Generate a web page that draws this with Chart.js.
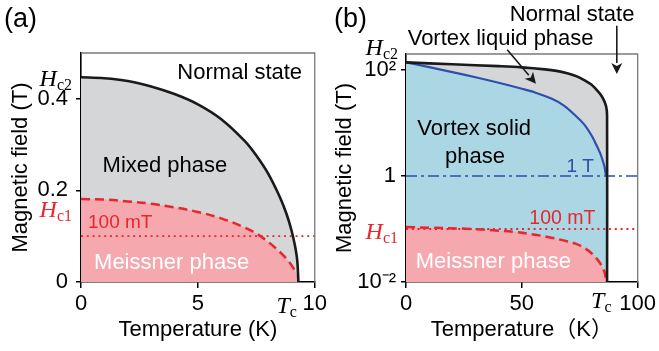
<!DOCTYPE html>
<html>
<head>
<meta charset="utf-8">
<script src="https://cdn.jsdelivr.net/npm/chart.js@4.4.1/dist/chart.umd.min.js"></script>
<style>
  html, body { margin: 0; padding: 0; background: #fff; }
  #wrap { position: relative; width: 659px; height: 351px; overflow: hidden; }
  #ca { position: absolute; left: 0; top: 0; }
  #cb { position: absolute; left: 330px; top: 0; }
</style>
</head>
<body>
<div id="wrap">
  <canvas id="ca" width="330" height="351"></canvas>
  <canvas id="cb" width="329" height="351"></canvas>
</div>
<script>
// ---------- Panel (a): conventional type-II superconductor, linear field axis ----------
const tempHc2A  = [0, 1, 2, 3, 4, 5, 6, 7, 7.5, 8, 8.5, 8.8, 9.0, 9.15, 9.25, 9.3];
const fieldHc2A = [0.447, 0.445, 0.439, 0.427, 0.4105, 0.388, 0.3555, 0.308, 0.276, 0.237, 0.186, 0.1475, 0.1136, 0.080, 0.047, 0];
const tempHc1A  = [0, 1, 2, 3, 4, 5, 6, 7, 7.5, 8, 8.5, 8.9, 9.1, 9.22];
const fieldHc1A = [0.181, 0.180, 0.176, 0.171, 0.163, 0.153, 0.139, 0.119, 0.106, 0.088, 0.066, 0.044, 0.029, 0.018];
const tcA = 9.3;               // K
const refFieldA = 0.1;         // 100 mT
const xRangeA = [0, 10];
const yRangeA = [0, 0.5];
const xTicksA = [0, 5, 10];
const xTickLabelsA = ['0', '5', '10'];
const yTicksA = [0, 0.2, 0.4];
const yTickLabelsA = ['0', '0.2', '0.4'];

// ---------- Panel (b): high-Tc superconductor, logarithmic field axis ----------
const tempHc2B  = [0, 20, 40, 50, 60, 65, 70, 74, 77, 80, 82, 84, 85.5, 86.4, 86.8, 86.8];
const fieldHc2B = [139, 128, 118, 112, 102.6, 96, 86, 75, 64, 53, 43.5, 34.3, 26.4, 20.4, 14, 0.01];
const tempMeltB  = [0, 10, 20, 30, 40, 50, 56, 63, 68, 73, 77, 80.3, 82.5, 83.9, 85, 85.7, 86.3];
const fieldMeltB = [139, 113, 91, 72.8, 57.3, 44.2, 37.2, 28.5, 21.5, 14, 9.3, 5.6, 3.6, 2.63, 1.9, 1.48, 1.02];
const tempHc1B  = [0, 10, 26, 40, 47.4, 55, 61.7, 68, 73.2, 77, 80.3, 82.5, 83.9, 85.7, 86.2];
const fieldHc1B = [0.109, 0.106, 0.101, 0.093, 0.0875, 0.079, 0.070, 0.061, 0.053, 0.044, 0.0343, 0.027, 0.0222, 0.0154, 0.012];
const tcB = 86.8;              // K
const refFieldsB = [1, 0.1];   // 1 T and 100 mT
const xRangeB = [0, 100];
const yRangeB = [0.01, 200];
const xTicksB = [0, 50, 100];
const xTickLabelsB = ['0', '50', '100'];
const yTicksB = [0.01, 1, 100];
const yTickLabelsB = ['10\u207B\u00B2', '1', '10\u00B2'];

// ---------- styling ----------
const SANS = '"Liberation Sans", Arial, "Noto Sans CJK JP", sans-serif';
const SERIF = '"Liberation Serif", "DejaVu Serif", serif';
const C = {
  black: '#1a1a1a',
  gray: '#d5d6d8',
  pink: '#f5a8ae',
  lightBlue: '#abd6e4',
  blue: '#2f4fab',
  red: '#e8262d',
  frame: '#7a7a7a'
};

Chart.defaults.font.family = SANS;
Chart.defaults.color = '#000';

const pts = (xs, ys) => xs.map((x, i) => ({ x, y: ys[i] }));

function line(data, color, width, dash, tension) {
  return { data, borderColor: color, borderWidth: width, borderDash: dash || [], fill: false,
           tension: tension === undefined ? 0.35 : tension,
           pointRadius: 0, backgroundColor: 'transparent' };
}
function area(data, color) {
  return { data, borderColor: 'rgba(0,0,0,0)', borderWidth: 1, fill: 'start', tension: 0.35,
           backgroundColor: color, pointRadius: 0 };
}

function axisX(range, ticks, labels, title) {
  return {
    type: 'linear', min: range[0], max: range[1], bounds: 'data', z: 1,
    afterBuildTicks: s => { s.ticks = ticks.map(v => ({ value: v })); },
    afterFit: s => { s.height = 69; },
    ticks: { autoSkip: false, maxRotation: 0, padding: 3, font: { size: 22 }, color: '#000',
             callback: v => labels[ticks.indexOf(v)] },
    grid: { drawOnChartArea: false, drawTicks: true, tickLength: 6, color: '#000', lineWidth: 1.5 },
    border: { display: true, color: '#000', width: 1.6 },
    title: { display: true, text: title, font: { size: 22, lineHeight: 1.2 }, color: '#000',
             padding: { top: 0, bottom: 8 } }
  };
}
function axisY(type, range, ticks, labels, width, tickPad, titlePad) {
  return {
    type, min: range[0], max: range[1], bounds: 'data', z: 1,
    afterBuildTicks: s => { s.ticks = ticks.map(v => ({ value: v })); },
    afterFit: s => { s.width = width; },
    ticks: { autoSkip: false, padding: tickPad, font: { size: 22 }, color: '#000',
             callback: v => labels[ticks.indexOf(v)] },
    grid: { drawOnChartArea: false, drawTicks: true, tickLength: 5, color: '#000', lineWidth: 1.5 },
    border: { display: true, color: '#000', width: 1.6 },
    title: { display: true, text: 'Magnetic field (T)', font: { size: 22, lineHeight: 1.2 }, color: '#000',
             padding: { top: titlePad, bottom: 0 } }
  };
}

// ---------- drawing helpers for labels ----------
function text(ctx, s, x, y, size, color, align) {
  ctx.save();
  ctx.font = size + 'px ' + SANS;
  ctx.fillStyle = color;
  ctx.textAlign = align || 'center';
  ctx.textBaseline = 'middle';
  ctx.fillText(s, x, y);
  ctx.restore();
}
// italic symbol with an upright subscript, e.g. H_c2 or T_c
function symbol(ctx, main, subText, x, base, color, align) {
  ctx.save();
  ctx.fillStyle = color;
  ctx.textBaseline = 'alphabetic';
  ctx.textAlign = 'left';
  ctx.font = 'italic 24px ' + SERIF;
  const w1 = ctx.measureText(main).width;
  ctx.font = '16px ' + SERIF;
  const w2 = ctx.measureText(subText).width;
  const x0 = align === 'right' ? x - w1 - w2 : x;
  ctx.font = 'italic 24px ' + SERIF;
  ctx.fillText(main, x0, base);
  ctx.font = '16px ' + SERIF;
  ctx.fillText(subText, x0 + w1, base + 4);
  ctx.restore();
}
function arrow(ctx, x1, y1, x2, y2) {
  const a = Math.atan2(y2 - y1, x2 - x1), L = 11, W = 5.5;
  const bx = x2 - L * Math.cos(a), by = y2 - L * Math.sin(a);
  ctx.save();
  ctx.strokeStyle = C.black; ctx.fillStyle = C.black; ctx.lineWidth = 1.6;
  ctx.beginPath(); ctx.moveTo(x1, y1); ctx.lineTo(bx, by); ctx.stroke();
  ctx.beginPath();
  ctx.moveTo(x2, y2);
  ctx.lineTo(bx + W * Math.sin(a), by - W * Math.cos(a));
  ctx.lineTo(x2 - (L - 3) * Math.cos(a), y2 - (L - 3) * Math.sin(a));
  ctx.lineTo(bx - W * Math.sin(a), by + W * Math.cos(a));
  ctx.closePath(); ctx.fill();
  ctx.restore();
}
function frame(chart) {
  const { ctx, chartArea: a } = chart;
  ctx.save();
  ctx.strokeStyle = C.frame; ctx.lineWidth = 1.3;
  ctx.beginPath();
  ctx.moveTo(a.left, a.top); ctx.lineTo(a.right, a.top); ctx.lineTo(a.right, a.bottom);
  ctx.stroke();
  ctx.restore();
}

const common = {
  responsive: false, animation: false, events: [],
  elements: { point: { radius: 0 }, line: { borderCapStyle: 'butt' } },
  plugins: { legend: { display: false }, tooltip: { enabled: false },
             filler: { drawTime: 'beforeDatasetsDraw', propagate: false } }
};

// ---------- chart (a) ----------
// datasets are listed top-most first; areas come last so they are painted underneath
new Chart(document.getElementById('ca'), {
  type: 'line',
  data: { datasets: [
    line(pts(tempHc2A, fieldHc2A), C.black, 2.6),
    line(pts(tempHc1A, fieldHc1A), C.red, 2.5, [9, 5]),
    line(pts(xRangeA, [refFieldA, refFieldA]), C.red, 1.8, [2, 3.8], 0),
    area(pts(tempHc1A.concat([tcA]), fieldHc1A.concat([0])), C.pink),
    area(pts(tempHc2A, fieldHc2A), C.gray)
  ] },
  options: Object.assign({}, common, {
    layout: { padding: { left: 0, top: 53, right: 15, bottom: 0 } },
    scales: {
      x: axisX(xRangeA, xTicksA, xTickLabelsA, 'Temperature (K)'),
      y: axisY('linear', yRangeA, yTicksA, yTickLabelsA, 81, 8, 8)
    }
  }),
  plugins: [{
    id: 'labelsA',
    afterDraw(chart) {
      const { ctx, scales: { x, y }, chartArea: a } = chart;
      frame(chart);
      text(ctx, '(a)', 4, 20, 27, '#000', 'left');
      text(ctx, 'Normal state', x.getPixelForValue(6.79), y.getPixelForValue(0.457), 22, '#000');
      text(ctx, 'Mixed phase', x.getPixelForValue(3.59), y.getPixelForValue(0.254), 22, '#000');
      text(ctx, 'Meissner phase', x.getPixelForValue(3.88), y.getPixelForValue(0.0415), 22, '#fff');
      text(ctx, '100 mT', x.getPixelForValue(0.3), y.getPixelForValue(0.13), 19, C.red, 'left');
      symbol(ctx, 'H', 'c2', a.left - 9, y.getPixelForValue(fieldHc2A[0]) + 9, '#000', 'right');
      symbol(ctx, 'H', 'c1', a.left - 9, y.getPixelForValue(fieldHc1A[0]) + 18, C.red, 'right');
      symbol(ctx, 'T', 'c', x.getPixelForValue(tcA) - 22, 313, '#000');
    }
  }]
});

// ---------- chart (b) ----------
const meltFill = pts(tempMeltB.concat([tcB, tcB]),
                     fieldMeltB.concat([fieldMeltB[fieldMeltB.length - 1], yRangeB[0]]));
new Chart(document.getElementById('cb'), {
  type: 'line',
  data: { datasets: [
    line(pts(tempHc2B, fieldHc2B), C.black, 2.6),
    line(pts(tempMeltB, fieldMeltB), C.blue, 2.2),
    line(pts(tempHc1B, fieldHc1B), C.red, 2.5, [9, 5]),
    line(pts(xRangeB, [refFieldsB[0], refFieldsB[0]]), C.blue, 1.5, [11, 4, 3, 4], 0),
    line(pts(xRangeB, [refFieldsB[1], refFieldsB[1]]), C.red, 1.8, [2, 3.8], 0),
    area(pts(tempHc1B.concat([tcB]), fieldHc1B.concat([yRangeB[0]])), C.pink),
    area(meltFill, C.lightBlue),
    area(pts(tempHc2B, fieldHc2B), C.gray)
  ] },
  options: Object.assign({}, common, {
    layout: { padding: { left: 0, top: 54, right: 20, bottom: 0 } },
    scales: {
      x: axisX(xRangeB, xTicksB, xTickLabelsB, 'Temperature\uFF08K\uFF09'),
      y: axisY('logarithmic', yRangeB, yTicksB, yTickLabelsB, 76, 5, 2)
    }
  }),
  plugins: [{
    id: 'labelsB',
    afterDraw(chart) {
      const { ctx, scales: { x, y }, chartArea: a } = chart;
      frame(chart);
      text(ctx, '(b)', 4, 20, 27, '#000', 'left');
      text(ctx, 'Normal state', x.getPixelForValue(71.7), y.getPixelForValue(1100), 22, '#000');
      text(ctx, 'Vortex liquid phase', x.getPixelForValue(40.85), y.getPixelForValue(384), 22, '#000');
      text(ctx, 'Vortex solid', x.getPixelForValue(29.45), y.getPixelForValue(7.74), 22, '#000');
      text(ctx, 'phase', x.getPixelForValue(29.8), y.getPixelForValue(2.26), 22, '#000');
      text(ctx, '1 T', x.getPixelForValue(75.2), y.getPixelForValue(1.47), 19, C.blue);
      text(ctx, '100 mT', x.getPixelForValue(67.5), y.getPixelForValue(0.156), 19.5, C.red);
      text(ctx, 'Meissner phase', x.getPixelForValue(37.7), y.getPixelForValue(0.0238), 22, '#fff');
      arrow(ctx, x.getPixelForValue(43.7), y.getPixelForValue(241), x.getPixelForValue(56.1), y.getPixelForValue(55.2));
      arrow(ctx, x.getPixelForValue(91), y.getPixelForValue(683), x.getPixelForValue(91), y.getPixelForValue(84));
      symbol(ctx, 'H', 'c2', a.left - 8, y.getPixelForValue(fieldHc2B[0]) - 7, '#000', 'right');
      symbol(ctx, 'H', 'c1', a.left - 8, y.getPixelForValue(fieldHc1B[0]) + 12, C.red, 'right');
      symbol(ctx, 'T', 'c', x.getPixelForValue(tcB) - 16, 308, '#000');
    }
  }]
});
</script>
</body>
</html>
